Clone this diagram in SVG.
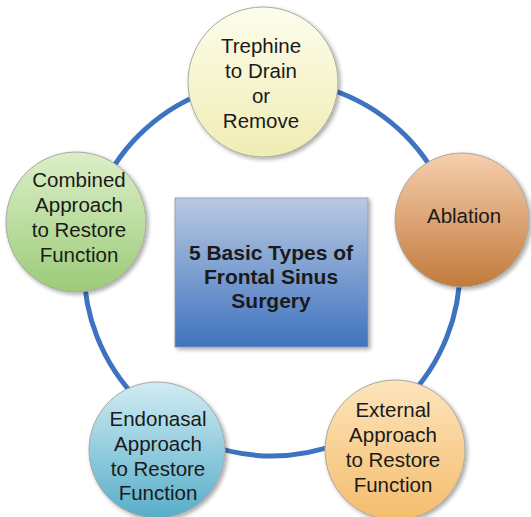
<svg xmlns="http://www.w3.org/2000/svg" width="531" height="517" viewBox="0 0 531 517">
  <defs>
    <linearGradient id="gBox" x1="0" y1="0" x2="0" y2="1">
      <stop offset="0" stop-color="#b9c9e2"/>
      <stop offset="1" stop-color="#3f73bf"/>
    </linearGradient>
    <linearGradient id="gYellow" x1="0" y1="0" x2="0" y2="1">
      <stop offset="0" stop-color="#fdfdec"/>
      <stop offset="1" stop-color="#f0ecb4"/>
    </linearGradient>
    <linearGradient id="gOrange" x1="0" y1="0" x2="0" y2="1">
      <stop offset="0" stop-color="#f6cfae"/>
      <stop offset="1" stop-color="#c27a3c"/>
    </linearGradient>
    <linearGradient id="gGreen" x1="0" y1="0" x2="0" y2="1">
      <stop offset="0" stop-color="#dcefc8"/>
      <stop offset="1" stop-color="#9ccb78"/>
    </linearGradient>
    <linearGradient id="gBlue" x1="0" y1="0" x2="0" y2="1">
      <stop offset="0" stop-color="#d0ecf3"/>
      <stop offset="1" stop-color="#57adc9"/>
    </linearGradient>
    <linearGradient id="gPeach" x1="0" y1="0" x2="0" y2="1">
      <stop offset="0" stop-color="#fde4bc"/>
      <stop offset="1" stop-color="#f4bd6c"/>
    </linearGradient>
    <filter id="shadow" x="-20%" y="-20%" width="140%" height="140%">
      <feGaussianBlur in="SourceAlpha" stdDeviation="2"/>
      <feOffset dx="1.5" dy="2" result="b"/>
      <feComponentTransfer><feFuncA type="linear" slope="0.35"/></feComponentTransfer>
      <feMerge><feMergeNode/><feMergeNode in="SourceGraphic"/></feMerge>
    </filter>
  </defs>
  <style>
    .ring { fill: none; stroke: #3d73c0; stroke-width: 5; }
    .node { stroke: #a8a8a0; stroke-width: 1; filter: url(#shadow); }
    .lbl { font-family: "Liberation Sans", Arial, sans-serif; font-size: 20.5px; fill: #1a1a1a; text-anchor: middle; }
    .title { font-family: "Liberation Sans", Arial, sans-serif; font-size: 21px; font-weight: bold; fill: #1a1a1a; text-anchor: middle; }
  </style>
  <rect width="531" height="517" fill="#ffffff"/>

  <!-- cycle ring linking the five nodes -->
  <g id="connectors">
    <circle class="ring" cx="272" cy="268" r="188"/>
  </g>

  <g id="center">
    <rect x="175" y="198" width="193" height="149" fill="url(#gBox)" stroke="#8a9ab0" stroke-width="0.8" filter="url(#shadow)"/>
    <text class="title" x="271" y="260">5 Basic Types of</text>
    <text class="title" x="271" y="284">Frontal Sinus</text>
    <text class="title" x="271" y="308">Surgery</text>
  </g>

  <g id="trephine">
    <circle class="node" cx="263" cy="82" r="75" fill="url(#gYellow)"/>
    <text class="lbl" x="261" y="53">Trephine</text>
    <text class="lbl" x="261" y="78">to Drain</text>
    <text class="lbl" x="261" y="103">or</text>
    <text class="lbl" x="261" y="128">Remove</text>
  </g>

  <g id="ablation">
    <circle class="node" cx="462" cy="220" r="67" fill="url(#gOrange)"/>
    <text class="lbl" x="464" y="223">Ablation</text>
  </g>

  <g id="external">
    <circle class="node" cx="395" cy="450" r="70" fill="url(#gPeach)"/>
    <text class="lbl" x="393" y="417">External</text>
    <text class="lbl" x="393" y="442">Approach</text>
    <text class="lbl" x="393" y="467">to Restore</text>
    <text class="lbl" x="393" y="492">Function</text>
  </g>

  <g id="endonasal">
    <circle class="node" cx="157" cy="450" r="68" fill="url(#gBlue)"/>
    <text class="lbl" x="158" y="426">Endonasal</text>
    <text class="lbl" x="158" y="451">Approach</text>
    <text class="lbl" x="158" y="476">to Restore</text>
    <text class="lbl" x="158" y="500">Function</text>
  </g>

  <g id="combined">
    <circle class="node" cx="76" cy="222" r="70" fill="url(#gGreen)"/>
    <text class="lbl" x="79" y="187">Combined</text>
    <text class="lbl" x="79" y="212">Approach</text>
    <text class="lbl" x="79" y="237">to Restore</text>
    <text class="lbl" x="79" y="262">Function</text>
  </g>
</svg>
